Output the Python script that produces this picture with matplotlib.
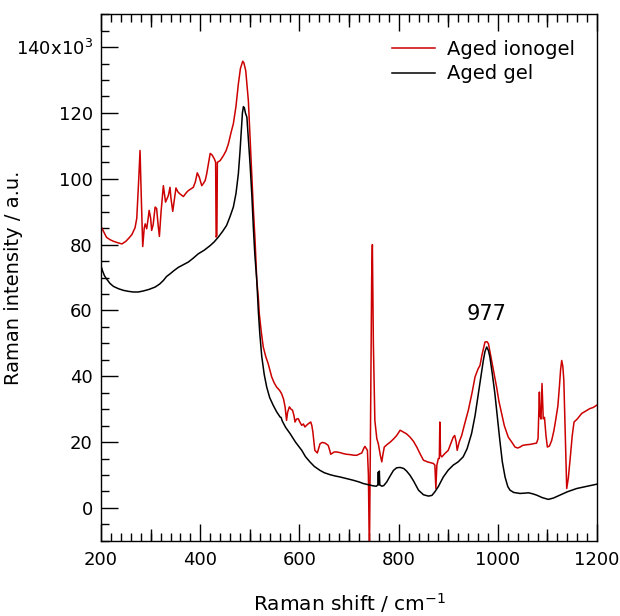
#!/usr/bin/env python3
"""
Raman spectra of aged ionogel vs aged gel
"""

import matplotlib
matplotlib.use('Agg')
import matplotlib.pyplot as plt
from matplotlib.ticker import MultipleLocator, FixedLocator, FuncFormatter

# Aged ionogel (red), Raman shift in cm-1 and intensity in 10^3 a.u.
ionogel_x = [200, 205, 211, 218, 225, 233, 242, 250, 255, 262, 268.5, 272, 276, 278.6, 281, 284,
             287, 289, 292, 295, 297, 300, 302, 305, 309, 312, 315, 317.6, 321, 325.6, 330, 335.7,
             339, 341, 344.5, 348, 351, 355, 359, 366, 372, 376, 382, 386, 390, 394, 398, 403,
             406, 410, 413, 417, 420, 424, 428.5, 431, 432, 433.5, 434.5, 440, 446.6, 452, 456.7,
             462, 466.7, 472, 476.8, 481, 485.6, 488, 491.7, 494, 497, 500, 503.8, 507, 510.5,
             514, 517, 519, 523, 527, 532, 537, 544, 549, 554, 560, 564, 568, 571, 574, 576,
             579.6, 583, 586, 589, 591, 594, 597.7, 601, 604.6, 608, 611, 615, 618, 622.8, 625,
             627, 631, 636, 641.5, 646, 651.6, 658, 661, 663, 670, 675, 682, 688.5, 695, 702,
             710, 715.5, 720, 725.6, 730, 732, 735, 737, 739, 741, 743, 745.6, 747, 749, 752,
             756, 759, 763, 766, 768, 771, 777, 783, 790, 796, 803, 810, 816, 823, 830, 836.5,
             843, 850, 858, 863, 870, 873, 875, 877, 880, 882, 883, 884.5, 887, 893, 900, 905,
             910, 913, 916, 918, 922, 927, 933, 940.5, 948, 954, 960, 964, 968, 974, 978, 981,
             984, 987.5, 992, 997.5, 1002, 1007.6, 1013, 1021, 1028, 1034.6, 1040, 1044.7, 1050,
             1058, 1065, 1072, 1078, 1081, 1083.7, 1085, 1087, 1089, 1091.5, 1094, 1097, 1099.8,
             1104, 1108.5, 1113, 1117, 1121, 1124, 1126.5, 1128.7, 1131, 1133, 1136, 1138.8,
             1142, 1145.5, 1150, 1153.6, 1160, 1169, 1177, 1185.8, 1192, 1199.3]
ionogel_y = [85.5, 84, 82.2, 81.5, 81, 80.6, 80.2, 81, 81.8, 83, 85.1, 88, 100, 108.6, 95, 79.4,
             85, 86.3, 84.8, 88, 90.4, 88, 84.3, 86, 91.4, 91, 86, 82.5, 90, 97.9, 92.9, 94.9,
             97.4, 94, 90.1, 94, 97.2, 96, 95.4, 94.6, 95.8, 96.4, 97, 97.4, 99, 101.8, 100.5, 97.9,
             98.5, 99.5, 101.5, 105, 107.7, 107.2, 106, 105, 82.3, 82.8, 105, 105.5, 107, 108.5, 110.6,
             114, 116.7, 122, 128.8, 133.5, 135.7, 135.2, 132.8, 129, 123.7, 114, 101.5, 91, 81.2,
             69, 64, 59, 53.5, 48.9, 46, 43.8, 39.8, 38, 36.7, 35.7, 34.7, 33, 30.7, 26.6, 29,
             30.7, 30, 29.7, 28, 26.1, 27, 27.1, 26, 25.1, 25.5, 24.6, 25.2, 25.6, 26.1, 25,
             23.1, 17.5, 16.7, 19.5, 19.9, 19.7, 19, 17.5, 16.3, 17, 17, 16.8, 16.5, 16.3, 16.2,
             16, 16, 16.3, 16.7, 18.2, 18.7, 18, 17.5, 10, -15, 20, 70, 80, 50, 26.6,
             21, 19.5, 16, 14, 16, 18.5, 19.3, 20, 21, 22, 23.6, 23, 22.5, 21.5, 20.2, 18.5,
             16.5, 14.5, 14, 13.8, 13.5, 13, 5.9, 13, 15, 15, 26.1, 16, 15.5, 16.5, 17.5, 19.5,
             21.5, 22, 20, 17.5, 20, 22, 25.5, 29.7, 35, 39.8, 42.2, 43.3, 46.5, 50.4, 50.5, 49.9,
             47.5, 44.8, 41, 36.7, 32.5, 28.7, 25, 21.5, 20, 18.5, 18.2, 18.5, 19,
             19.2, 19.3, 19.5, 19.7, 21, 35.2, 28, 27, 37.8, 27.1, 27.5, 22, 18.5,
             18.8, 20.5, 23.5, 27.1, 31, 36.7, 42, 44.8, 43, 38.8, 22, 5.9,
             9, 14.5, 22, 26.1, 27, 28.7, 29.4, 30.2, 30.5, 31.2]

# Aged gel (black)
gel_x = [200, 203, 207, 211, 218, 225, 235, 245, 255, 265, 275, 285, 297, 309, 318, 325.6, 332,
         339, 347, 356, 366, 376, 386, 396, 408, 420, 428, 436.5, 445, 453, 460, 466.7, 472,
         476.8, 480, 483, 485, 487, 489, 491, 494, 497, 500.4, 504, 507, 510, 514, 517, 520,
         524, 529, 534, 540, 547, 554, 561, 563, 565, 572, 581, 592, 604.6, 612, 621, 630,
         641.5, 650, 661.7, 672, 682, 695, 708.6, 720, 729, 740, 749, 755, 758, 759, 760, 761,
         762, 766, 770, 776, 782, 789.5, 796, 803, 810, 816, 823, 830, 840, 850, 860, 867, 873,
         880, 890, 900, 910, 920, 930, 938, 947, 954, 960.6, 966, 970.7, 974, 977.5, 981, 984,
         989, 994, 999, 1004, 1009, 1014.5, 1020, 1024.5, 1032, 1044.7, 1055, 1061.5, 1070,
         1078, 1090, 1101.8, 1112, 1125.4, 1140, 1159, 1180, 1199]
gel_y = [73.5, 72, 70.5, 69.6, 68.2, 67.3, 66.6, 66.1, 65.8, 65.6, 65.6, 65.9, 66.4, 67.1, 68, 69.1, 70.3,
         71.1, 72.1, 73.1, 73.9, 74.7, 75.9, 77.2, 78.3, 79.7, 80.8, 82.3, 84, 85.8, 88.5, 91.4, 95.5,
         101.5, 108, 115.5, 120, 121.9, 121.5, 120, 118.7, 112, 104.5, 95, 85.3, 77, 69.1, 60, 53,
         46, 40.5, 36.7, 33.5, 31.2, 29.2, 27.6, 27.5, 26.5, 24.5, 22.6, 20, 17.5, 15.6, 14, 12.6,
         11.4, 10.7, 10.1, 9.7, 9.4, 8.9, 8.4, 7.9, 7.4, 7, 6.7, 6.6, 7, 10.9, 7, 11.2,
         7, 6.6, 6.8, 7.9, 9.5, 11.4, 12.2, 12.3, 12, 11.2, 9.9, 8.2, 5.4, 4, 3.6, 3.8, 4.9,
         6.5, 9.4, 11.5, 13, 14, 15.5, 18, 22.6, 28, 34.7, 40, 44.8, 47.5, 48.9, 47.8, 45.8,
         40.5, 34.7, 27.5, 20.5, 14, 9.4, 6.5, 5.4, 4.7, 4.4, 4.5, 4.6, 4.3,
         3.9, 3.1, 2.6, 3, 3.9, 4.9, 5.9, 6.6, 7.2]

series_labels = ['Aged ionogel', 'Aged gel']
peak_label = '977'
peak_pos = (977, 59)


def ytick_fmt(v, pos):
    if abs(v - 140) < 1e-6:
        return r'140x10$^{3}$'
    return f'{v:.0f}'


def main():
    plt.rcParams['font.family'] = ['DejaVu Sans']
    plt.rcParams['mathtext.fontset'] = 'dejavusans'

    fig = plt.figure(figsize=(6.2, 6.16), dpi=100)
    ax = fig.add_axes([0.163, 0.122, 0.800, 0.855])

    ax.plot(ionogel_x, ionogel_y, color='#cc0000', lw=1.1, label=series_labels[0])
    ax.plot(gel_x, gel_y, color='black', lw=1.1, label=series_labels[1])

    ax.set_xlim(200, 1200)
    ax.set_ylim(-10, 150)

    # x: labelled every 200, minor every 20, medium ticks every 100
    ax.xaxis.set_major_locator(MultipleLocator(200))
    ax.xaxis.set_minor_locator(MultipleLocator(20))
    ax.yaxis.set_major_locator(FixedLocator([0, 20, 40, 60, 80, 100, 120, 140]))
    ax.yaxis.set_minor_locator(MultipleLocator(5))
    ax.yaxis.set_major_formatter(FuncFormatter(ytick_fmt))

    ax.tick_params(axis='x', which='both', direction='in', top=True, bottom=True,
                   labelsize=13, pad=7)
    ax.tick_params(axis='y', which='both', direction='in', left=True, right=False,
                   labelsize=13, pad=6)
    ax.tick_params(which='major', length=12, width=1)
    ax.tick_params(which='minor', length=6, width=1)

    mid_ticks = [300, 500, 700, 900, 1100]
    for side in ('bottom', 'top'):
        sec = ax.secondary_xaxis(side)
        sec.set_xticks(mid_ticks)
        sec.tick_params(direction='in', length=9, width=1, labelbottom=False, labeltop=False)
        sec.spines[side].set_visible(False)

    for s in ax.spines.values():
        s.set_linewidth(1.0)

    ax.set_xlabel('Raman shift / cm$^{-1}$', fontsize=14.5, labelpad=16)
    ax.set_ylabel('Raman intensity / a.u.', fontsize=14)
    ax.yaxis.set_label_coords(-0.158, 0.5)

    ax.text(peak_pos[0], peak_pos[1], peak_label, ha='center', va='center', fontsize=15)

    ax.legend(loc='upper right', bbox_to_anchor=(0.99, 0.985), frameon=False, fontsize=14,
              handlelength=2.2, handletextpad=0.6, labelspacing=0.3)

    fig.savefig('out.png', dpi=100)
    plt.close(fig)


if __name__ == "__main__":
    main()
